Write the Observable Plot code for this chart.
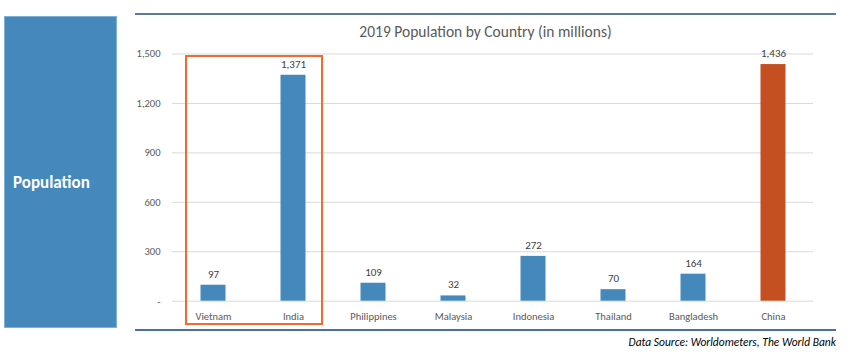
<!DOCTYPE html>
<html>
<head>
<meta charset="utf-8">
<script src="https://cdn.jsdelivr.net/npm/d3@7"></script>
<script src="https://cdn.jsdelivr.net/npm/@observablehq/plot@0.6"></script>
<style>
  html, body { margin: 0; padding: 0; background: #fff; }
  #wrap { position: relative; width: 850px; height: 354px; overflow: hidden; font-family: Carlito, Calibri, Lato, sans-serif; }
  #side { position: absolute; left: 4px; top: 16px; width: 113px; height: 312px; background: #4589bc; border: 1px solid #7fb0d6; box-sizing: border-box; }
  #side span { position: absolute; left: 8px; top: 165px; transform: translateY(-50%); color: #fff; font-weight: bold; font-size: 17px; }
  #topline { position: absolute; left: 135px; top: 13px; width: 701px; height: 2px; background: #5b7a9c; }
  #botline { position: absolute; left: 135px; top: 329px; width: 701px; height: 2px; background: #4a6fa5; }
  #title { position: absolute; left: 135px; width: 701px; top: 22px; text-align: center; color: #595959; font-size: 15.5px; }
  #caption { position: absolute; right: 14px; top: 335px; font-style: italic; font-size: 11.5px; color: #000; }
  #chart { position: absolute; left: 0; top: 0; }
</style>
</head>
<body>
<div id="wrap">
  <div id="side"><span>Population</span></div>
  <div id="topline"></div>
  <div id="title">2019 Population by Country (in millions)</div>
  <div id="chart"></div>
  <div id="botline"></div>
  <div id="caption">Data Source: Worldometers, The World Bank</div>
</div>
<script>
const countries = ["Vietnam", "India", "Philippines", "Malaysia", "Indonesia", "Thailand", "Bangladesh", "China"];
const population = [97, 1371, 109, 32, 272, 70, 164, 1436];
const highlighted = ["China"];
const boxedCountries = ["Vietnam", "India"];
const yTicks = [0, 300, 600, 900, 1200, 1500];

const data = countries.map((c, i) => ({country: c, value: population[i], hi: highlighted.includes(c)}));
const fmt = d3.format(",");

const boxMark = (index, scales, values, dimensions) => {
  const x = scales.x, y = scales.y;
  const step = x(countries[1]) - x(countries[0]);
  const left = x(boxedCountries[0]) + 13;
  const right = x(boxedCountries[boxedCountries.length - 1]) + step - 11;
  const top = y(1500) + 2.5;
  const bottom = dimensions.height - 30;
  const g = d3.create("svg:g");
  g.append("rect")
    .attr("x", left).attr("y", top)
    .attr("width", right - left).attr("height", bottom - top)
    .attr("fill", "none").attr("stroke", "#f26b2c").attr("stroke-width", 2);
  return g.node();
};

const chart = Plot.plot({
  width: 850,
  height: 354,
  marginLeft: 172,
  marginRight: 37,
  marginTop: 53.5,
  marginBottom: 53.3,
  style: {fontFamily: "Carlito, Calibri, Lato, sans-serif", fontSize: "10.5px", color: "#595959", background: "transparent"},
  x: {domain: countries, padding: 0, label: null, tickSize: 0, tickPadding: 11},
  y: {domain: [0, 1500], ticks: yTicks, label: null, tickSize: 0, tickPadding: 12,
      tickFormat: d => d === 0 ? "-" : fmt(d)},
  marks: [
    Plot.ruleY(yTicks, {stroke: "#d9d9d9", strokeWidth: 1}),
    Plot.barY(data, {x: "country", y: "value", fill: d => d.hi ? "#c45022" : "#4589bc",
      insetLeft: 27.5, insetRight: 27.5}),
    Plot.text(data, {x: "country", y: "value", text: d => fmt(d.value), dy: -11, fill: "#404040", fontSize: 11}),
    boxMark
  ]
});
document.getElementById("chart").appendChild(chart);
</script>
</body>
</html>
